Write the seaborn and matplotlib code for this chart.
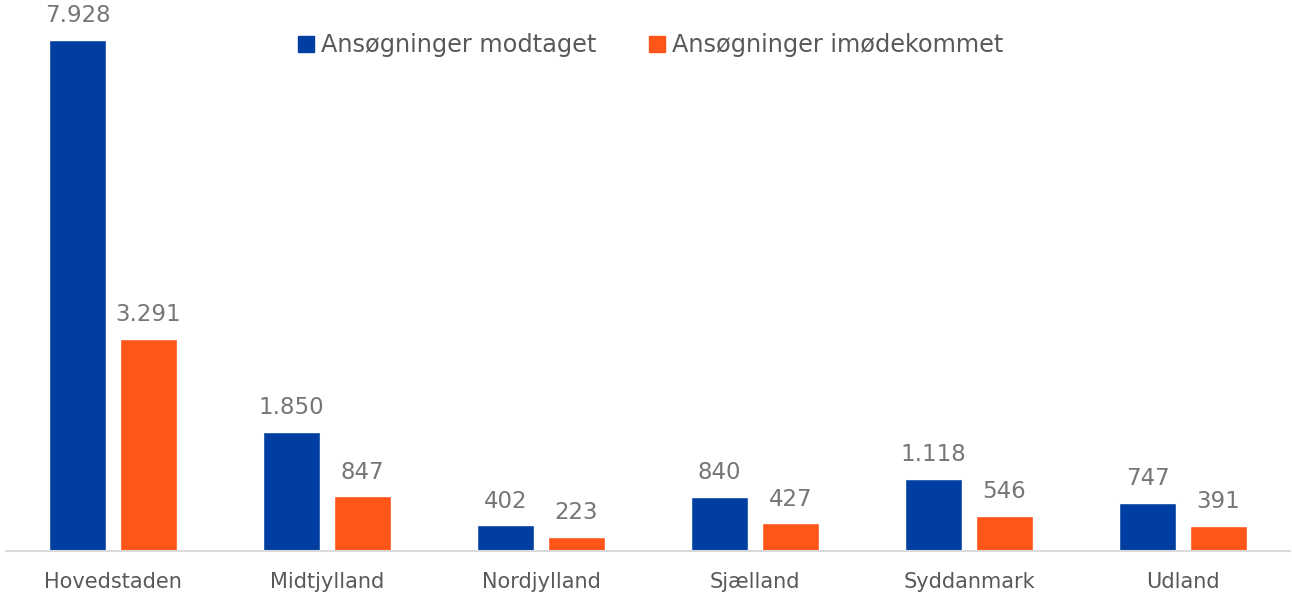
import pandas as pd
import matplotlib.pyplot as plt
import seaborn as sns

regions = ['Hovedstaden', 'Midtjylland', 'Nordjylland', 'Sjælland', 'Syddanmark', 'Udland']
received = [7928, 1850, 402, 840, 1118, 747]
granted = [3291, 847, 223, 427, 546, 391]
series = ['Ansøgninger modtaget', 'Ansøgninger imødekommet']
colors = ['#003FA1', '#FF5519']

df = pd.DataFrame({
    'region': regions * 2,
    'serie': [series[0]] * len(regions) + [series[1]] * len(regions),
    'value': received + granted,
})

sns.set_theme(style='white')
plt.rcParams['font.family'] = ['DejaVu Sans']

fig = plt.figure(figsize=(12.92, 5.96), dpi=100)
ax = fig.add_axes([6 / 1292, 45 / 596, 1284 / 1292, 516 / 596])

sns.barplot(data=df, x='region', y='value', hue='serie', palette=colors,
            width=0.66, gap=0.2, saturation=1, ax=ax, legend=False)

# value labels with danish thousands separator
for cont in ax.containers:
    ax.bar_label(cont, labels=[f'{v:,.0f}'.replace(',', '.') for v in cont.datavalues],
                 padding=9, fontsize=16.5, color='#767676')

ax.set_ylim(0, 8000)
ax.set_xlim(-0.5, len(regions) - 0.5)
ax.set_xlabel('')
ax.set_ylabel('')
ax.set_yticks([])
ax.tick_params(axis='x', length=0, pad=15, labelsize=15, labelcolor='#595959')
for s in ['top', 'left', 'right']:
    ax.spines[s].set_visible(False)
ax.spines['bottom'].set_color('#d9d9d9')
ax.spines['bottom'].set_linewidth(1.5)

handles = [plt.Rectangle((0, 0), 1, 1, color=c) for c in colors]
fig.legend(handles, series, loc='center', bbox_to_anchor=(651 / 1292, 1 - 45 / 596),
           ncol=2, frameon=False, fontsize=17.3, labelcolor='#595959',
           handlelength=0.65, handleheight=0.65, handletextpad=0.3, columnspacing=2.2)

fig.savefig('out.png', dpi=100)
